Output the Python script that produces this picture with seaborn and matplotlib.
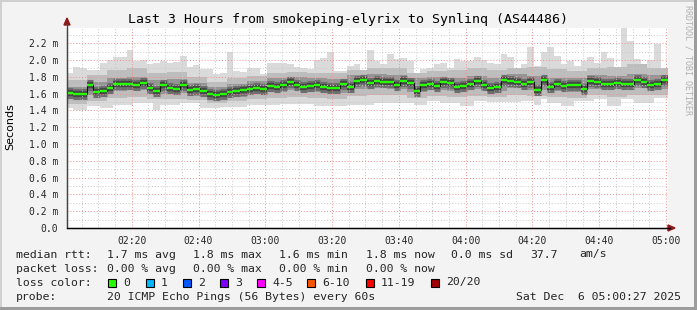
import numpy as np
import pandas as pd
import matplotlib
matplotlib.use("Agg")
import matplotlib.pyplot as plt
import seaborn as sns
from matplotlib.ticker import FixedLocator, FuncFormatter
from matplotlib.patches import Rectangle, Polygon

# ---------------- data (values in milliseconds) ----------------
title = "Last 3 Hours from smokeping-elyrix to Synlinq (AS44486)"
tick_labels = ["02:20", "02:40", "03:00", "03:20", "03:40", "04:00", "04:20", "04:40", "05:00"]
tick_minutes = [20, 40, 60, 80, 100, 120, 140, 160, 180]   # minutes after 02:00

# median RTT, 2-minute bins
median_rtt = [1.61, 1.59, 1.60, 1.70, 1.62, 1.63, 1.67, 1.71, 1.71, 1.71, 1.70, 1.73, 1.67, 1.63, 1.70, 1.67,
              1.66, 1.70, 1.64, 1.65, 1.63, 1.59, 1.58,
              1.59, 1.62, 1.63, 1.64, 1.65, 1.67, 1.65, 1.69, 1.68, 1.70, 1.74, 1.70, 1.68, 1.69, 1.70,
              1.68, 1.67, 1.67, 1.71, 1.68, 1.75, 1.76, 1.73,
              1.75, 1.74, 1.74, 1.70, 1.75, 1.73, 1.63, 1.70, 1.71, 1.69, 1.74, 1.73, 1.68, 1.69, 1.72,
              1.75, 1.70, 1.67, 1.68, 1.76, 1.75, 1.74,
              1.72, 1.74, 1.64, 1.76, 1.68, 1.72, 1.69, 1.70, 1.70, 1.66, 1.75, 1.74, 1.71, 1.71, 1.73,
              1.71, 1.72, 1.76, 1.74, 1.70, 1.72, 1.76]
# smoke: min / max ping, 2-minute bins
smoke_min = [1.43, 1.41, 1.41, 1.45, 1.45, 1.43, 1.43, 1.47, 1.47, 1.47, 1.49, 1.49, 1.49, 1.41, 1.46, 1.46,
             1.46, 1.49, 1.49, 1.49, 1.43, 1.43, 1.43,
             1.44, 1.44, 1.44, 1.44, 1.47, 1.47, 1.47, 1.47, 1.47, 1.48, 1.48, 1.48, 1.48, 1.48, 1.45,
             1.45, 1.45, 1.45, 1.45, 1.47, 1.47, 1.47, 1.47,
             1.49, 1.49, 1.49, 1.49, 1.49, 1.49, 1.47, 1.47, 1.51, 1.51, 1.49, 1.49, 1.49, 1.45, 1.45,
             1.51, 1.51, 1.50, 1.50, 1.50, 1.50, 1.50,
             1.51, 1.51, 1.47, 1.53, 1.49, 1.49, 1.45, 1.45, 1.51, 1.51, 1.51, 1.53, 1.53, 1.45, 1.45,
             1.53, 1.53, 1.49, 1.49, 1.49, 1.55, 1.55]
smoke_max = [1.85, 1.92, 1.91, 1.88, 1.88, 1.96, 2.00, 2.03, 2.04, 2.12, 1.99, 2.00, 1.95, 1.96, 1.99, 1.97,
             1.98, 2.05, 1.92, 1.94, 1.89, 1.89, 1.83,
             1.85, 2.10, 1.87, 1.86, 1.90, 1.90, 1.83, 1.96, 1.96, 1.97, 1.95, 1.92, 1.91, 1.89, 2.00,
             2.02, 2.10, 1.87, 1.87, 1.93, 1.95, 1.87, 2.12,
             1.99, 1.95, 2.07, 2.01, 2.02, 1.99, 1.80, 1.89, 1.90, 1.95, 1.96, 1.91, 2.01, 1.99, 1.99,
             2.03, 2.00, 1.97, 1.95, 2.07, 2.03, 1.91,
             1.95, 2.15, 1.93, 2.10, 2.15, 2.05, 1.95, 1.99, 1.93, 1.99, 2.03, 1.97, 2.09, 2.02, 1.91,
             2.38, 2.23, 2.01, 1.89, 2.00, 2.19, 1.90]
# inner smoke bands, 6-minute bins
band_b_hi = [1.76, 1.82, 1.88, 1.90, 1.85, 1.86, 1.80, 1.74, 1.79, 1.81, 1.85, 1.86, 1.84, 1.85, 1.88,
             1.90, 1.91, 1.85, 1.87, 1.88, 1.90, 1.88, 1.91, 1.92, 1.89, 1.87, 1.91, 1.92, 1.95, 1.90]
band_b_lo = [1.48, 1.51, 1.55, 1.56, 1.53, 1.54, 1.52, 1.49, 1.51, 1.53, 1.55, 1.56, 1.55, 1.54, 1.57,
             1.58, 1.58, 1.55, 1.57, 1.56, 1.57, 1.56, 1.58, 1.57, 1.56, 1.55, 1.58, 1.56, 1.58, 1.58]
band_c_hi = [1.68, 1.74, 1.79, 1.80, 1.76, 1.77, 1.73, 1.68, 1.72, 1.75, 1.78, 1.80, 1.78, 1.77, 1.82,
             1.83, 1.82, 1.78, 1.80, 1.79, 1.81, 1.79, 1.83, 1.81, 1.79, 1.78, 1.82, 1.81, 1.83, 1.82]
band_c_lo = [1.53, 1.58, 1.63, 1.64, 1.60, 1.61, 1.57, 1.52, 1.56, 1.59, 1.62, 1.64, 1.62, 1.61, 1.66,
             1.67, 1.66, 1.62, 1.64, 1.63, 1.65, 1.63, 1.67, 1.64, 1.63, 1.62, 1.66, 1.65, 1.67, 1.66]

loss_labels = ["0", "1", "2", "3", "4-5", "6-10", "11-19", "20/20"]
loss_colors = ["#26ff00", "#00b8ff", "#0059ff", "#7e00ff", "#ff00ff", "#ff5500", "#ff0000", "#a10000"]

# ---------------- figure ----------------
sns.set_style("white")
plt.rcParams['font.family'] = ['DejaVu Sans Mono', 'DejaVu Sans']

W, H = 697, 310
BG = "#f3f3f3"
fig = plt.figure(figsize=(W / 100, H / 100), dpi=100, facecolor=BG)


def fx(px):
    return px / W


def fy(py):
    return 1 - py / H


ax = fig.add_axes([fx(66.5), fy(228), 601 / W, 200 / H])
ax.set_facecolor("white")

t0 = 0.45
n90 = len(median_rtt)
edges90 = t0 + 2 * np.arange(n90 + 1)
edges30 = t0 + 6 * np.arange(len(band_b_hi) + 1)


def ext(a):
    a = np.asarray(a, dtype=float)
    return np.append(a, a[-1])


ax.fill_between(edges90, ext(smoke_min), ext(smoke_max), step="post", color="#dadada", lw=0, zorder=1)
ax.fill_between(edges30, ext(band_b_lo), ext(band_b_hi), step="post", color="#bdbdbd", lw=0, zorder=1.1)
ax.fill_between(edges30, ext(band_c_lo), ext(band_c_hi), step="post", color="#959595", lw=0, zorder=1.2)
# darker core of the smoke along the median
ax.hlines(median_rtt, edges90[:-1], edges90[1:], color="#6e6e6e", lw=8.0, zorder=1.3)
ax.hlines(median_rtt, edges90[:-1], edges90[1:], color="#454545", lw=4.5, zorder=1.4)

# grid (drawn above the smoke like rrdtool)
dot = (0, (1, 2))
for m in np.arange(5, 181, 5):
    if m % 20 != 0:
        ax.axvline(m, color="#c8c8c8", lw=0.7, ls=dot, zorder=2)
for m in tick_minutes:
    ax.axvline(m, color="#f09090", lw=0.7, ls=dot, zorder=2.1)
for v in np.arange(0.1, 2.39, 0.2):
    ax.axhline(v, color="#c8c8c8", lw=0.7, ls=dot, zorder=2)
for v in np.arange(0.2, 2.39, 0.2):
    ax.axhline(v, color="#f09090", lw=0.7, ls=dot, zorder=2.1)

# median line: thin black steps + green segments
df = pd.DataFrame({"t": edges90, "rtt": ext(median_rtt)})
sns.lineplot(data=df, x="t", y="rtt", drawstyle="steps-post", color="#111111", lw=0.8,
             ax=ax, legend=False, zorder=3, estimator=None, sort=False)
ax.hlines(median_rtt, edges90[:-1], edges90[1:], color=loss_colors[0], lw=1.7, zorder=4)

ax.set_xlim(t0, t0 + 180)
ax.set_ylim(0, 2.381)
ax.xaxis.set_major_locator(FixedLocator(tick_minutes))
ax.set_xticklabels(tick_labels)
yt = [round(0.2 * i, 1) for i in range(12)]
ax.yaxis.set_major_locator(FixedLocator(yt))
ax.yaxis.set_major_formatter(FuncFormatter(lambda v, p: "0.0" if abs(v) < 1e-9 else f"{v:.1f} m"))
ax.tick_params(axis="y", length=3, width=0.8, color="#444444", pad=3, labelsize=7, direction="out")
ax.tick_params(axis="x", length=2, width=0.8, color="#e08080", pad=4, labelsize=7, direction="out")
ax.set_xlabel("")
ax.set_ylabel("")
for s in ["top", "right"]:
    ax.spines[s].set_visible(False)
ax.spines["left"].set_color("#444444")
ax.spines["left"].set_linewidth(0.9)
ax.spines["bottom"].set_color("#000000")
ax.spines["bottom"].set_linewidth(0.9)

# axis extensions and arrows
fig.add_artist(plt.Line2D([fx(67), fx(67)], [fy(228), fy(24)], color="#444444", lw=0.9))
fig.add_artist(plt.Line2D([fx(66.5), fx(670)], [fy(228), fy(228)], color="#000000", lw=0.9))
fig.add_artist(Polygon([[fx(64), fy(25)], [fx(70), fy(25)], [fx(67), fy(18)]], closed=True,
                       color="#8b1a1a", transform=fig.transFigure))
fig.add_artist(Polygon([[fx(668), fy(225)], [fx(668), fy(231)], [fx(675), fy(228)]], closed=True,
                       color="#8b1a1a", transform=fig.transFigure))

# title and labels
fig.text(fx(347.5), fy(19), title, ha="center", va="center", fontsize=9.5, color="#000000")
fig.text(fx(10), fy(127), "Seconds", rotation=90, ha="center", va="center", fontsize=8,
         family=["DejaVu Sans"], color="#000000")
fig.text(fx(688), fy(60), "RRDTOOL / TOBI OETIKER", rotation=270, ha="center", va="center",
         fontsize=6, color="#b0b0b0")

# legend rows
fs = 8.25
r1, r2, r3, r4 = 254.5, 268.5, 282.5, 296.5
fig.text(fx(16), fy(r1), "median rtt:", ha="left", va="center", fontsize=fs)
for x, s in [(107, "1.7 ms avg"), (193, "1.8 ms max"), (279, "1.6 ms min"), (366, "1.8 ms now"),
             (451, "0.0 ms sd"), (530, "37.7"), (579, "am/s")]:
    fig.text(fx(x), fy(r1), s, ha="left", va="center", fontsize=fs)
fig.text(fx(16), fy(r2), "packet loss:", ha="left", va="center", fontsize=fs)
for x, s in [(107, "0.00 % avg"), (193, "0.00 % max"), (279, "0.00 % min"), (366, "0.00 % now")]:
    fig.text(fx(x), fy(r2), s, ha="left", va="center", fontsize=fs)
fig.text(fx(16), fy(r3), "loss color:", ha="left", va="center", fontsize=fs)
box_x = [108, 146, 183, 220, 257, 307, 366, 431]
for bx, lab, col in zip(box_x, loss_labels, loss_colors):
    fig.add_artist(Rectangle((fx(bx), fy(r3 + 4)), 8 / W, 8 / H, transform=fig.transFigure,
                             facecolor=col, edgecolor="#000000", lw=0.8))
    fig.text(fx(bx + 15), fy(r3), lab, ha="left", va="center", fontsize=fs)
fig.text(fx(16), fy(r4), "probe:", ha="left", va="center", fontsize=fs)
fig.text(fx(107), fy(r4), "20 ICMP Echo Pings (56 Bytes) every 60s", ha="left", va="center", fontsize=fs)
fig.text(fx(681), fy(r4), "Sat Dec  6 05:00:27 2025", ha="right", va="center", fontsize=fs)

# canvas frame
fig.add_artist(Rectangle((0, 1 - 2 / H), 1, 2 / H, transform=fig.transFigure, color="#d0d0d0", lw=0))
fig.add_artist(Rectangle((0, 0), 2 / W, 1, transform=fig.transFigure, color="#d0d0d0", lw=0))
fig.add_artist(Rectangle((1 - 3 / W, 0), 3 / W, 1, transform=fig.transFigure, color="#9c9c9c", lw=0))
fig.add_artist(Rectangle((0, 0), 1, 3 / H, transform=fig.transFigure, color="#9c9c9c", lw=0))

fig.savefig("out.png", dpi=100, facecolor=BG)
